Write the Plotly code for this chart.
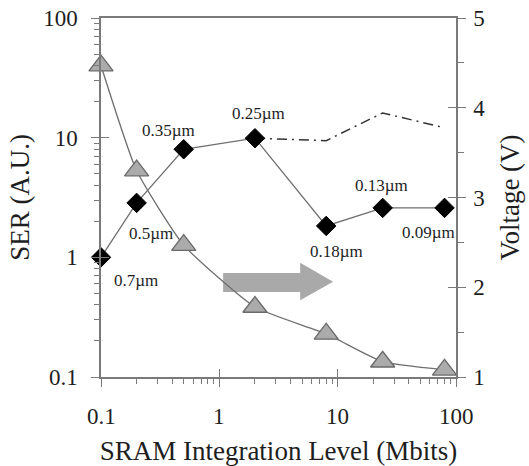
import numpy as np
import plotly.graph_objects as go

# SRAM density (Mbits) per technology node
mbits = [0.1, 0.2, 0.5, 2, 8, 24, 80]
nodes = ["0.7µm", "0.5µm", "0.35µm", "0.25µm", "0.18µm", "0.13µm", "0.09µm"]
ser = [1.0, 2.85, 8.0, 9.9, 1.83, 2.59, 2.59]          # SER (A.U.), diamonds
voltage = [4.47, 3.3, 2.47, 1.78, 1.48, 1.17, 1.08]    # supply voltage (V), triangles

# SER trend without the process change after 0.25µm (dash-dot)
trend_mbits = [2, 8, 24, 80]
trend_ser = [9.9, 9.44, 16.1, 12.1]

# axis ticks
log_major = [0.1, 1, 10, 100]
log_major_text = ["0.1", "1", "10", "100"]
volt_major = [1, 2, 3, 4, 5]
volt_minor = [1.5, 2.5, 3.5, 4.5]

log_minor = [m * 10.0 ** e for e in (-1, 0, 1) for m in range(2, 10)]

FONT = "Liberation Serif"
AXIS_GRAY = "#7a7a7a"
TEXT = "#1e1e1e"

# label placement (pixels) relative to each diamond
label_shift = [(35, -23), (14, -31), (-15, 19), (4, 25), (10, -26), (-1, 22), (-16, -25)]

fig = go.Figure()

fig.add_trace(go.Scatter(
    x=mbits, y=voltage, yaxis="y2", mode="lines+markers",
    line=dict(color="#6e6e6e", width=1.3, shape="spline", smoothing=0.5),
    marker=dict(symbol="triangle-up", size=21, color="#ababab",
                line=dict(color="#6a6a6a", width=1.3)),
    showlegend=False, cliponaxis=False,
))

fig.add_trace(go.Scatter(
    x=trend_mbits, y=trend_ser, mode="lines",
    line=dict(color="#333333", width=1.5, dash="10px,5px,2px,5px"),
    showlegend=False,
))

fig.add_trace(go.Scatter(
    x=mbits, y=ser, mode="lines+markers",
    line=dict(color="#6e6e6e", width=1.3),
    marker=dict(symbol="diamond", size=15, color="black",
                line=dict(color="black", width=1)),
    showlegend=False, cliponaxis=False,
))

# helper traces so the inward-tick overlay axes get drawn
fig.add_trace(go.Scatter(x=[None], y=[None], xaxis="x2", yaxis="y3",
                         showlegend=False, hoverinfo="skip"))
fig.add_trace(go.Scatter(x=[None], y=[None], xaxis="x2", yaxis="y4",
                         showlegend=False, hoverinfo="skip"))

for xv, yv, txt, (dx, dy) in zip(mbits, ser, nodes, label_shift):
    fig.add_annotation(
        x=np.log10(xv), y=np.log10(yv), text=txt, showarrow=False,
        xshift=dx, yshift=dy, font=dict(family=FONT, size=17, color=TEXT),
    )

tick_font = dict(family=FONT, size=23, color=TEXT)
title_font = dict(family=FONT, size=27, color=TEXT)

# x tick labels, set lower under the axis than the axis itself would place them
for v, t in zip(log_major, log_major_text):
    fig.add_annotation(
        x=np.log10(v), xref="x", y=0, yref="paper", yanchor="middle",
        yshift=-39, text=t, showarrow=False, font=tick_font,
    )

# block arrow pointing toward the voltage axis
fig.add_shape(
    type="path", xref="paper", yref="paper",
    path="M0.344,0.290 L0.561,0.290 L0.561,0.318 L0.654,0.265 "
         "L0.561,0.214 L0.561,0.237 L0.344,0.237 Z",
    fillcolor="#a9a9a9", line=dict(width=0), layer="below",
)

common = dict(automargin=False, showgrid=False, zeroline=False)

fig.update_layout(
    width=529, height=466,
    margin=dict(l=101, r=73, t=18, b=89, autoexpand=False),
    paper_bgcolor="white", plot_bgcolor="white",
    font=dict(family=FONT, color=TEXT),
    xaxis=dict(
        type="log", range=[-1, 2],
        tickmode="array", tickvals=log_major, showticklabels=False,
        ticks="outside", ticklen=8, tickwidth=1.3, tickcolor=AXIS_GRAY,
        minor=dict(tickmode="array", tickvals=log_minor, ticks="outside",
                   ticklen=5, tickwidth=1.1, tickcolor=AXIS_GRAY, showgrid=False),
        showline=True, linecolor=AXIS_GRAY, linewidth=1.5, mirror=True,
        title=dict(text="SRAM Integration Level (Mbits)", font=title_font, standoff=60),
        **common,
    ),
    xaxis2=dict(
        type="log", range=[-1, 2], overlaying="x", anchor="y", side="bottom",
        tickmode="array", tickvals=log_major, ticks="inside", ticklen=8,
        tickwidth=1.3, tickcolor=AXIS_GRAY, showticklabels=False,
        showline=False, **common,
    ),
    yaxis=dict(
        type="log", range=[-1, 2],
        tickmode="array", tickvals=log_major, ticktext=log_major_text,
        ticks="outside", ticklen=8, tickwidth=1.3, tickcolor=AXIS_GRAY,
        minor=dict(tickmode="array", tickvals=log_minor, ticks="outside",
                   ticklen=5, tickwidth=1.1, tickcolor=AXIS_GRAY, showgrid=False),
        showline=True, linecolor=AXIS_GRAY, linewidth=1.5,
        tickfont=tick_font, ticklabelstandoff=9,
        title=dict(text="SER (A.U.)", font=title_font, standoff=6),
        **common,
    ),
    yaxis2=dict(
        range=[1, 5], overlaying="y", side="right", anchor="x",
        tickmode="array", tickvals=volt_major,
        ticks="outside", ticklen=8, tickwidth=1.3, tickcolor=AXIS_GRAY,
        minor=dict(tickmode="array", tickvals=volt_minor, ticks="outside",
                   ticklen=6, tickwidth=1.1, tickcolor=AXIS_GRAY, showgrid=False),
        showline=True, linecolor=AXIS_GRAY, linewidth=1.5,
        tickfont=tick_font, ticklabelstandoff=3,
        title=dict(text="Voltage (V)", font=title_font, standoff=16),
        **common,
    ),
    yaxis3=dict(
        type="log", range=[-1, 2], overlaying="y", side="left", anchor="x",
        tickmode="array", tickvals=log_major, ticks="inside", ticklen=8,
        tickwidth=1.3, tickcolor=AXIS_GRAY, showticklabels=False,
        showline=False, **common,
    ),
    yaxis4=dict(
        range=[1, 5], overlaying="y", side="right", anchor="x",
        tickmode="array", tickvals=volt_major, ticks="inside", ticklen=8,
        tickwidth=1.3, tickcolor=AXIS_GRAY, showticklabels=False,
        showline=False, **common,
    ),
)

fig.write_html("out.html")
